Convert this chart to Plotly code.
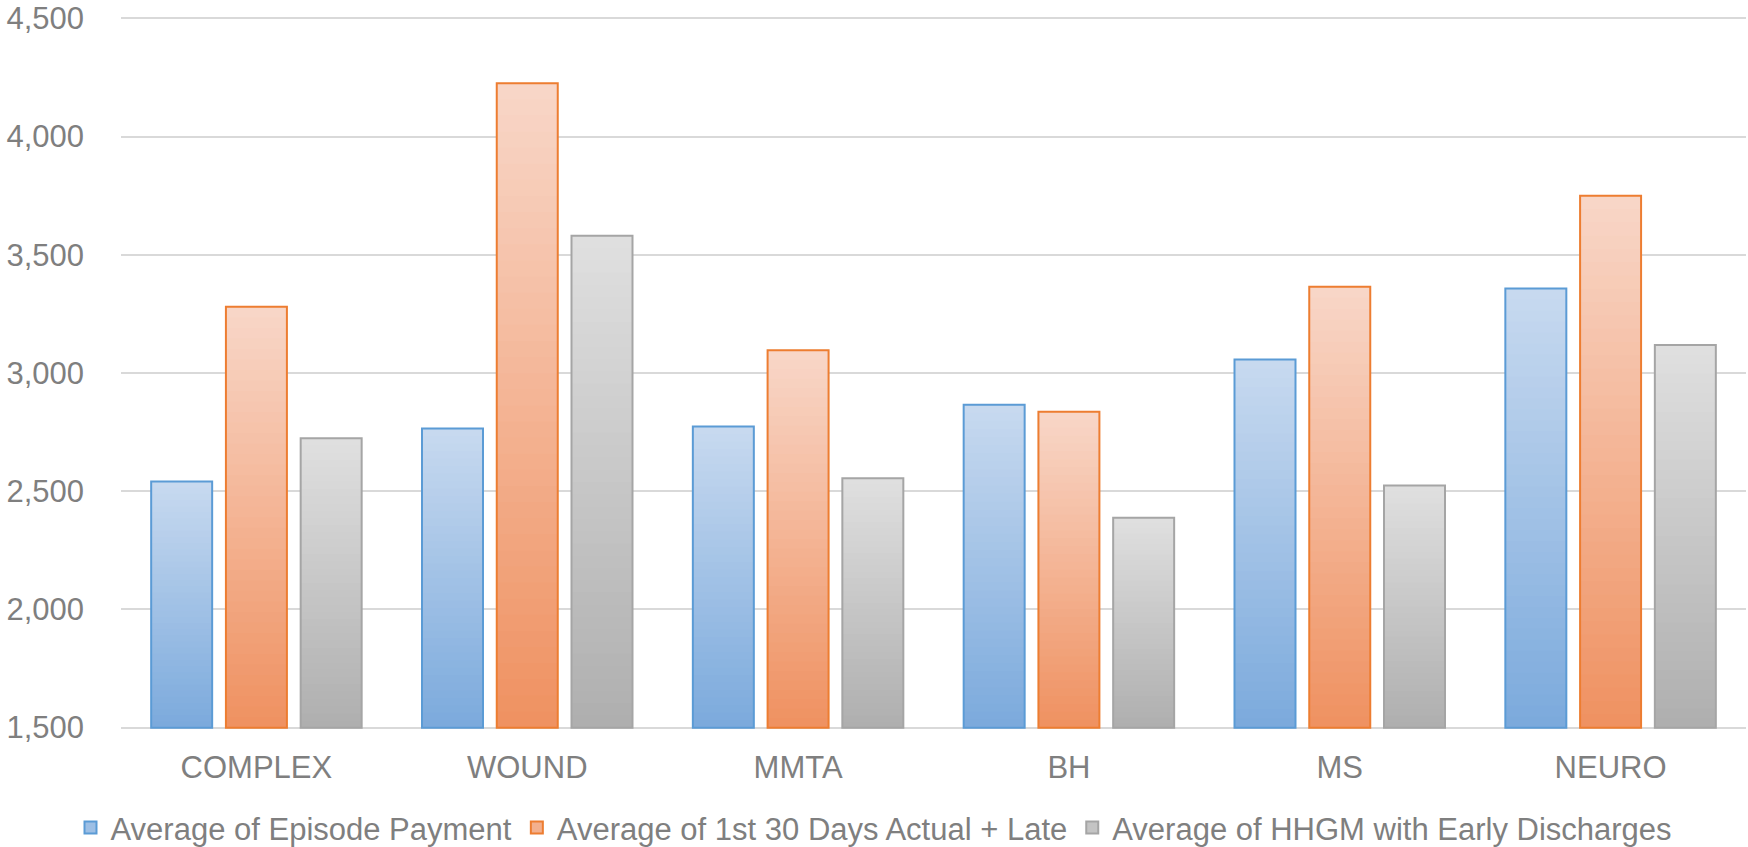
import plotly.graph_objects as go

categories = ["COMPLEX", "WOUND", "MMTA", "BH", "MS", "NEURO"]
episode_payment = [2541, 2765, 2774, 2866, 3057, 3357]
first_30_days = [3280, 4226, 3096, 2836, 3365, 3750]
hhgm_early = [2724, 3581, 2555, 2388, 2524, 3118]

series_names = [
    "Average of Episode Payment",
    "Average of 1st 30 Days Actual + Late",
    "Average of HHGM with Early Discharges",
]
series_values = [episode_payment, first_30_days, hhgm_early]
border_colors = ["#5B9BD5", "#ED7D31", "#A5A5A5"]
top_colors = [(199, 217, 239), (248, 214, 199), (223, 223, 223)]
bottom_colors = [(122, 169, 220), (239, 144, 95), (174, 174, 174)]

AXIS_MIN = 1500
AXIS_MAX = 4500
N_STEPS = 40


def mix(c1, c2, t):
    return "rgb(%d,%d,%d)" % tuple(round(a + (b - a) * t) for a, b in zip(c1, c2))


fig = go.Figure()

for i, (name, vals) in enumerate(zip(series_names, series_values)):
    grp = "g%d" % i
    # gradient: overlapping bars from the axis floor, tallest (lightest) first
    for k in range(N_STEPS, 0, -1):
        frac = k / N_STEPS
        heights = [(v - AXIS_MIN) * frac for v in vals]
        fig.add_trace(go.Bar(
            x=categories, y=heights, base=AXIS_MIN,
            offsetgroup=grp,
            marker=dict(color=mix(bottom_colors[i], top_colors[i], frac),
                        line=dict(width=0)),
            showlegend=False, hoverinfo="skip",
        ))
    # outline
    fig.add_trace(go.Bar(
        x=categories, y=[v - AXIS_MIN for v in vals], base=AXIS_MIN,
        offsetgroup=grp, name=name,
        marker=dict(color="rgba(0,0,0,0)",
                    line=dict(color=border_colors[i], width=2)),
        showlegend=False,
    ))
    # legend-only proxy
    fig.add_trace(go.Bar(
        x=[None], y=[None], name=name, offsetgroup=grp,
        marker=dict(color=mix(bottom_colors[i], top_colors[i], 0.45),
                    line=dict(color=border_colors[i], width=2)),
        showlegend=True,
    ))

font_family = "Liberation Sans, Arial, sans-serif"
text_color = "#7F7F7F"

fig.update_layout(
    width=1748, height=847,
    barmode="group",
    bargap=0.172, bargroupgap=0.184,
    paper_bgcolor="white", plot_bgcolor="white",
    margin=dict(l=121, r=2, t=16, b=117, autoexpand=False),
    font=dict(family=font_family, size=31, color=text_color),
    legend=dict(
        orientation="h", x=0.5, xanchor="center", xref="container",
        y=-0.137, yanchor="middle",
        font=dict(family=font_family, size=31, color=text_color),
        itemwidth=30, traceorder="normal",
    ),
    xaxis=dict(
        showgrid=False, showline=False, ticks="",
        tickangle=0, automargin=False,
        tickfont=dict(size=31, color=text_color),
        ticklabelstandoff=16,
    ),
    yaxis=dict(
        range=[AXIS_MIN - 10, AXIS_MAX + 10], dtick=500, tick0=AXIS_MIN,
        showgrid=True, gridcolor="#D9D9D9", gridwidth=1.5,
        zeroline=False, showline=False, ticks="", automargin=False,
        tickformat=",d", ticklabeloverflow="allow",
        tickfont=dict(size=31, color=text_color),
        ticklabelstandoff=36,
    ),
)

fig.write_html("out.html", config={"displayModeBar": False},
               post_script="document.body.style.margin='0px';")
